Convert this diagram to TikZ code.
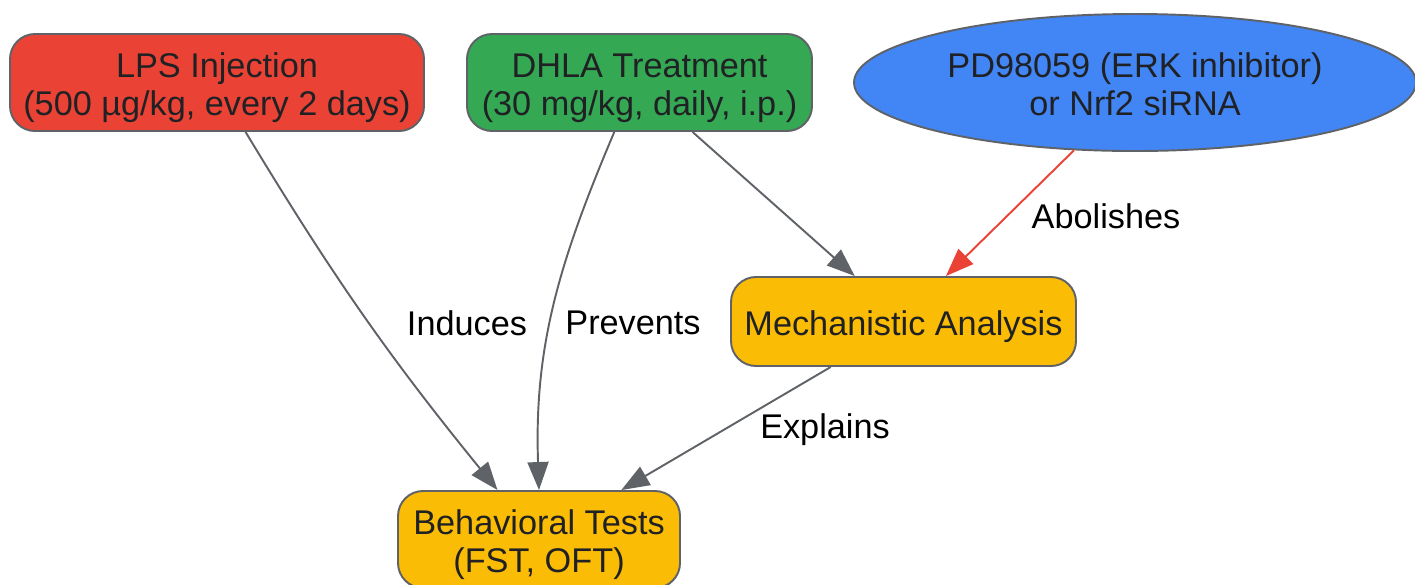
\documentclass[tikz,border=0pt]{standalone}
\usepackage{fontspec}
\setmainfont{Liberation Sans}
\usetikzlibrary{shapes.geometric,arrows.meta,positioning}

\definecolor{lpsred}{HTML}{EA4335}
\definecolor{dhlagreen}{HTML}{34A853}
\definecolor{inhblue}{HTML}{4285F4}
\definecolor{outyellow}{HTML}{FBBC05}
\definecolor{edgegray}{HTML}{5F6368}
\definecolor{txtdark}{HTML}{202124}

% text block, nudged down a little
\newcommand{\boxtext}[1]{\raisebox{-0.12cm}[\height][\depth]{\begin{tabular}{@{}c@{}}#1\end{tabular}}}

\tikzset{
  stepbox/.style={draw=edgegray, line width=1.1pt, rounded corners=0.5cm,
    text=txtdark, font=\fontsize{19.5}{21.6}\selectfont,
    minimum height=1.94cm, inner sep=0pt},
  inhnode/.style={draw=edgegray, line width=1.1pt, ellipse, fill=inhblue,
    text=txtdark, font=\fontsize{19.5}{21.6}\selectfont,
    minimum width=11.24cm, minimum height=2.74cm, inner sep=0pt},
  link/.style={draw=edgegray, line width=1.1pt,
    -{Triangle[length=0.56cm,width=0.42cm]}},
  lbl/.style={font=\fontsize{19.5}{21.6}\selectfont, text=black}
}

\begin{document}
\begin{tikzpicture}
    \useasboundingbox (0,0) rectangle (28.3,-11.68);

    % Treatments
    \node[stepbox, fill=lpsred, minimum width=8.28cm] (lps) at (4.34,-1.65)
        {\boxtext{LPS Injection\\(500 µg/kg, every 2 days)}};
    \node[stepbox, fill=dhlagreen, minimum width=6.9cm] (dhla) at (12.79,-1.65)
        {\boxtext{DHLA Treatment\\(30 mg/kg, daily, i.p.)}};
    \node[inhnode] (inh) at (22.7,-1.65)
        {\boxtext{PD98059 (ERK inhibitor)\\or Nrf2 siRNA}};

    % Outcomes
    \node[stepbox, fill=outyellow, minimum width=6.9cm, minimum height=1.78cm] (mech) at (18.07,-6.43)
        {\boxtext{Mechanistic Analysis}};
    \node[stepbox, fill=outyellow, minimum width=5.64cm] (beh) at (10.78,-10.79)
        {\boxtext{Behavioral Tests\\(FST, OFT)}};

    % Links
    \draw[link] (lps.-60) to[bend right=4] (beh.130);
    \draw[link] (dhla.-117) to[out=-113, in=92] (beh.north);
    \draw[link] (dhla.-43) -- (mech.137);
    \draw[link, draw=lpsred, -{Triangle[length=0.56cm,width=0.42cm]}] (inh.-132) -- (mech.47);
    \draw[link] (mech.-148) -- (beh.31);

    % Edge labels
    \node[lbl] (induces) at (9.34,-6.46) {Induces};
    \node[lbl] (prevents) at (12.66,-6.46) {Prevents};
    \node[lbl] (abolishes) at (22.12,-4.32) {Abolishes};
    \node[lbl] (explains) at (16.5,-8.6) {Explains};
\end{tikzpicture}
\end{document}
